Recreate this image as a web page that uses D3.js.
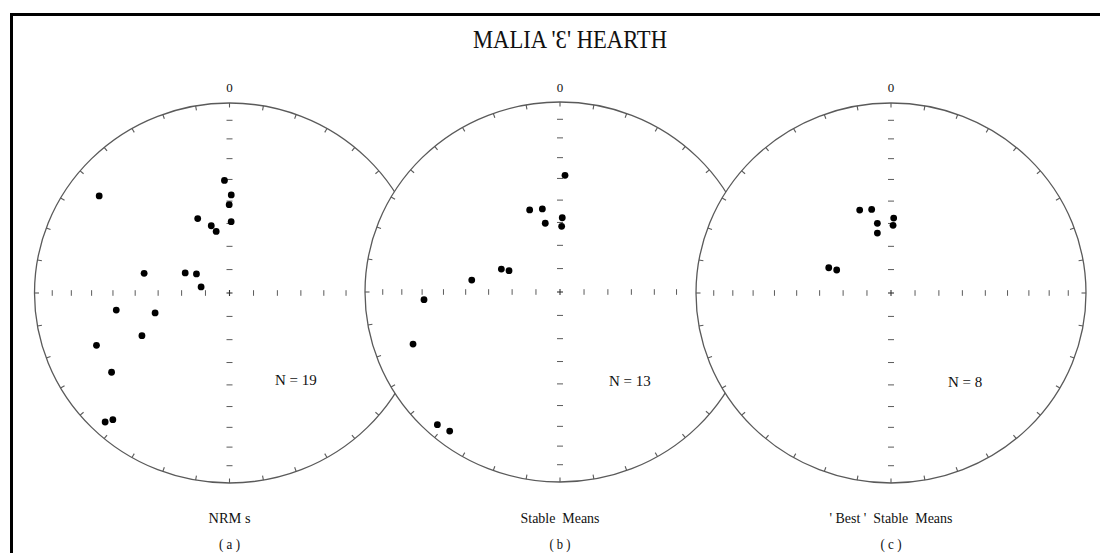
<!DOCTYPE html>
<html>
<head>
<meta charset="utf-8">
<script src="https://cdn.jsdelivr.net/npm/d3@7"></script>
<style>
  html, body { margin: 0; padding: 0; background: #fff; }
  svg { display: block; }
  text { font-family: "Liberation Serif", "Times New Roman", serif; fill: #111; }
</style>
</head>
<body>
<svg id="chart" width="1100" height="553"></svg>
<script>
// ---------- DATA (declination, inclination in degrees; lower hemisphere) ----------
const title = "MALIA '\u0190' HEARTH";
const panelNames = ["NRM s", "Stable  Means", "' Best '  Stable  Means"];
const panelLetters = ["( a )", "( b )", "( c )"];
const panelCounts = ["N = 19", "N = 13", "N = 8"];
const northLabel = "0";

const nrmDec = [357.5, 1.0, 359.8, 1.3, 307.4, 337.4, 345.2, 348.1, 283.3, 294.9, 300.6, 282.3, 261.2, 254.6, 243.4, 248.0, 235.4, 223.2, 221.9];
const nrmInc = [40.4, 47.2, 51.6, 59.2, 17.0, 55.1, 60.0, 62.9, 52.9, 69.6, 74.0, 77.9, 40.9, 57.5, 48.4, 27.3, 27.4, 7.6, 11.4];

const stableDec = [2.4, 340.2, 348.3, 1.7, 348.2, 1.4, 291.9, 293.2, 277.9, 266.7, 250.0, 222.0, 217.7];
const stableInc = [38.5, 52.1, 53.2, 57.9, 59.7, 61.7, 63.5, 66.8, 52.3, 30.8, 20.9, 6.7, 8.3];

const bestDec = [339.8, 347.3, 2.0, 349.2, 1.7, 347.5, 292.6, 293.5];
const bestInc = [51.6, 52.8, 57.6, 59.4, 60.8, 63.6, 61.7, 65.2];

const incTicks = [80, 70, 60, 50, 40, 30, 20, 10];
const azimuthTicks = d3.range(0, 360, 10);

// ---------- LAYOUT ----------
const svg = d3.select("#chart");
const panels = [
  { cx: 229.5, cy: 293, dec: nrmDec, inc: nrmInc, nX: 275, nY: 385, nameW: 42, letterW: 21 },
  { cx: 560,   cy: 292, dec: stableDec, inc: stableInc, nX: 609, nY: 386, nameW: 79, letterW: 21 },
  { cx: 891,   cy: 293, dec: bestDec, inc: bestInc, nX: 948, nY: 387, nameW: 123, letterW: 21 }
];
const rx = 195, ry = 190;
const lineColor = "#5a5a5a";
const rad = Math.PI / 180;
// Schmidt equal-area radius for an inclination
const eqArea = inc => Math.SQRT2 * Math.sin((90 - inc) / 2 * rad);

// frame
svg.append("line").attr("x1", 10).attr("x2", 1100).attr("y1", 14.5).attr("y2", 14.5)
  .attr("stroke", "#000").attr("stroke-width", 3);
svg.append("line").attr("x1", 11.5).attr("x2", 11.5).attr("y1", 13).attr("y2", 553)
  .attr("stroke", "#000").attr("stroke-width", 3);

// title
svg.append("text").attr("x", 570).attr("y", 48).attr("text-anchor", "middle")
  .attr("font-size", 25).attr("textLength", 194).attr("lengthAdjust", "spacingAndGlyphs")
  .text(title);

panels.forEach((p, i) => {
  const x = d3.scaleLinear().domain([-1, 1]).range([p.cx - rx, p.cx + rx]);
  const y = d3.scaleLinear().domain([-1, 1]).range([p.cy + ry, p.cy - ry]);
  const g = svg.append("g");

  // primitive circle (white fill covers earlier panels)
  g.append("ellipse").attr("cx", x(0)).attr("cy", y(0))
    .attr("rx", x(1) - x(0)).attr("ry", y(0) - y(1))
    .attr("fill", "#fff").attr("stroke", lineColor).attr("stroke-width", 1.3);

  // azimuth ticks on the perimeter, pointing inward
  g.selectAll("line.az").data(azimuthTicks).join("line").attr("class", "az")
    .attr("x1", d => x(Math.sin(d * rad)))
    .attr("y1", d => y(Math.cos(d * rad)))
    .attr("x2", d => x(Math.sin(d * rad)) - 4.5 * Math.sin(d * rad))
    .attr("y2", d => y(Math.cos(d * rad)) + 4.5 * Math.cos(d * rad))
    .attr("stroke", lineColor).attr("stroke-width", 1.1);

  // inclination ticks along E-W axis (vertical marks)
  const hx = [];
  incTicks.forEach(t => { hx.push(eqArea(t)); hx.push(-eqArea(t)); });
  g.selectAll("line.hx").data(hx).join("line").attr("class", "hx")
    .attr("x1", d => x(d)).attr("x2", d => x(d))
    .attr("y1", y(0) - 2.8).attr("y2", y(0) + 2.8)
    .attr("stroke", lineColor).attr("stroke-width", 1);

  // inclination ticks along N-S axis (horizontal marks)
  g.selectAll("line.vy").data(hx).join("line").attr("class", "vy")
    .attr("y1", d => y(d)).attr("y2", d => y(d))
    .attr("x1", x(0) - 3).attr("x2", x(0) + 3)
    .attr("stroke", lineColor).attr("stroke-width", 1);

  // centre cross
  g.append("line").attr("x1", x(0) - 3).attr("x2", x(0) + 3).attr("y1", y(0)).attr("y2", y(0))
    .attr("stroke", "#333").attr("stroke-width", 1.1);
  g.append("line").attr("x1", x(0)).attr("x2", x(0)).attr("y1", y(0) - 3).attr("y2", y(0) + 3)
    .attr("stroke", "#333").attr("stroke-width", 1.1);

  // data points
  const pts = p.dec.map((d, k) => ({ dec: d, inc: p.inc[k] }));
  g.selectAll("circle.pt").data(pts).join("circle").attr("class", "pt")
    .attr("cx", d => x(eqArea(d.inc) * Math.sin(d.dec * rad)))
    .attr("cy", d => y(eqArea(d.inc) * Math.cos(d.dec * rad)))
    .attr("r", 3.4).attr("fill", "#000");

  // labels
  g.append("text").attr("x", x(0)).attr("y", 92).attr("text-anchor", "middle")
    .attr("font-size", 13).text(northLabel);
  g.append("text").attr("x", p.nX).attr("y", p.nY).attr("font-size", 15).text(panelCounts[i]);
  g.append("text").attr("x", x(0)).attr("y", 523).attr("text-anchor", "middle")
    .attr("font-size", 15.5).attr("textLength", p.nameW).attr("lengthAdjust", "spacingAndGlyphs")
    .style("white-space", "pre").text(panelNames[i]);
  g.append("text").attr("x", x(0)).attr("y", 549).attr("text-anchor", "middle")
    .attr("font-size", 15).attr("textLength", p.letterW).attr("lengthAdjust", "spacingAndGlyphs")
    .style("white-space", "pre").text(panelLetters[i]);
});
</script>
</body>
</html>
